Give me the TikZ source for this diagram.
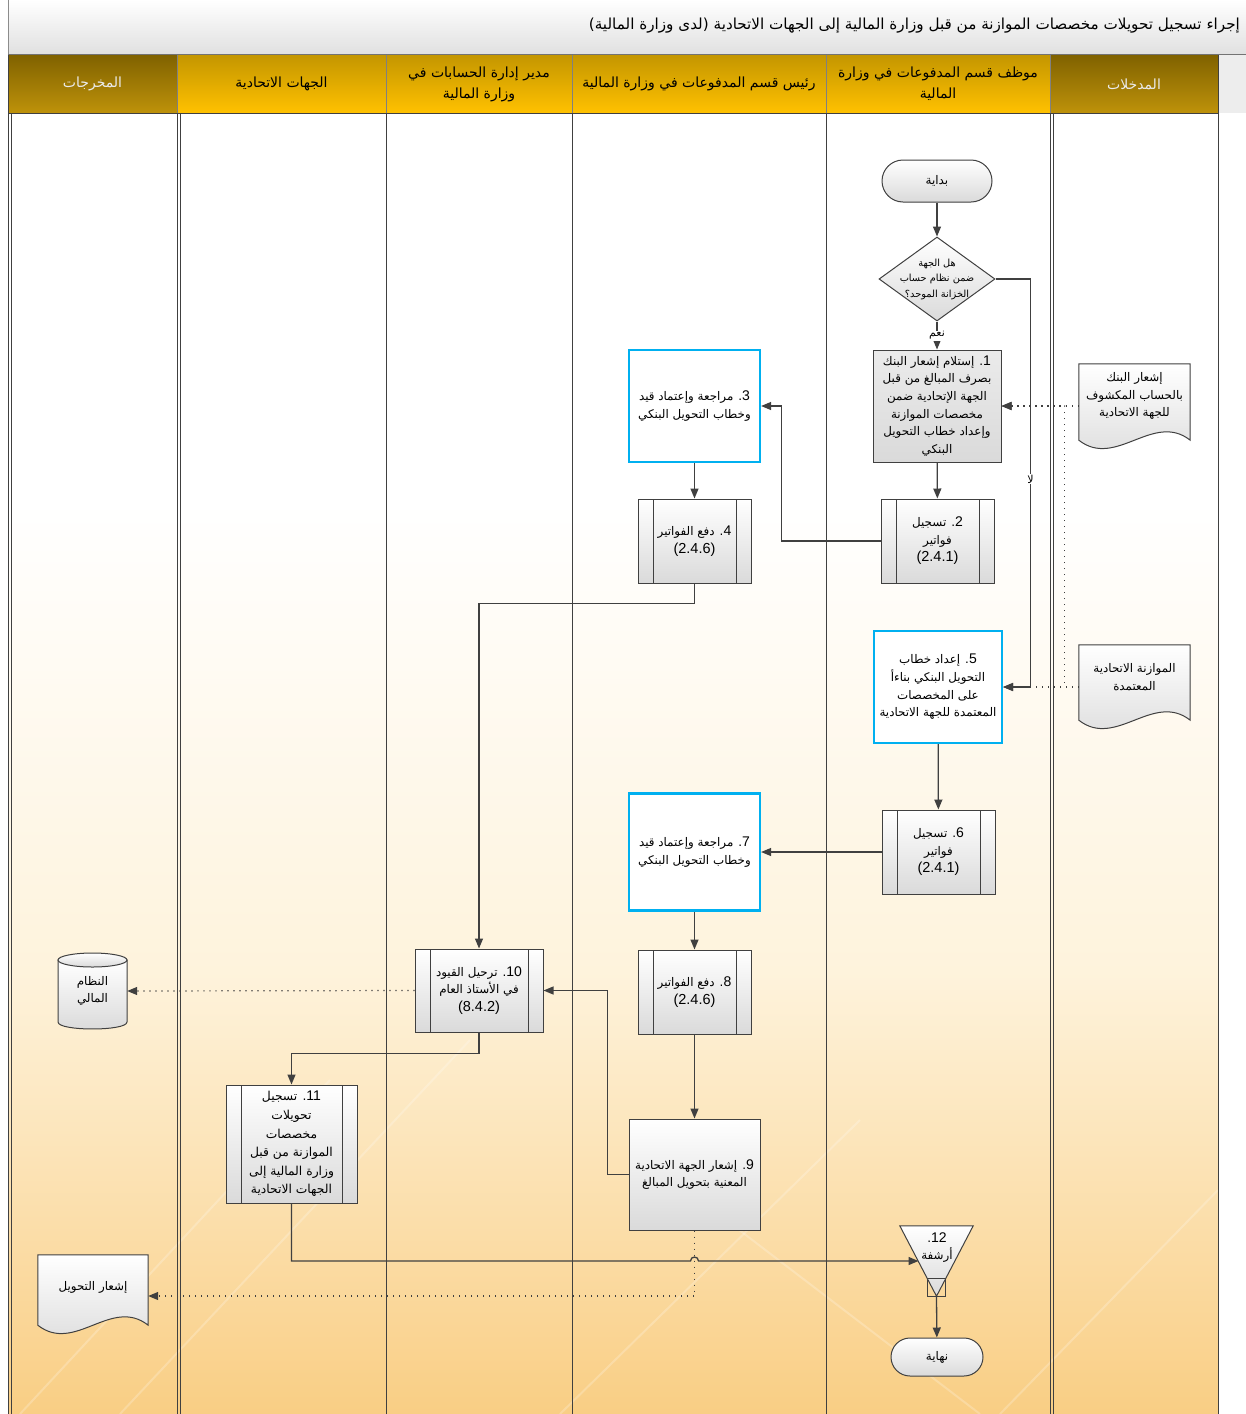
\documentclass[tikz,border=0pt]{standalone}
\usepackage{fontspec}
\setmainfont{Liberation Sans}
\newfontfamily\arabicfont[Script=Arabic]{DejaVu Sans}
\newfontfamily\latfont{Liberation Sans}
\TeXXeTstate=1
\usetikzlibrary{arrows.meta,shapes.geometric,calc}

% right-to-left line and embedded left-to-right number
\newcommand\arl[1]{\beginR #1\endR}
\newcommand\nm[1]{\beginL{\latfont\fontsize{14}{17.6}\selectfont #1}\endL}
\newcommand\code[1]{{\latfont\fontsize{14.5}{18}\selectfont #1}}

\newcommand\boxfont{\arabicfont\fontsize{11.9}{17.6}\selectfont}
\newcommand\smallfont{\arabicfont\fontsize{9.8}{15.5}\selectfont}
\newcommand\lblfont{\arabicfont\fontsize{11}{13}\selectfont}
\newcommand\hdrfont{\arabicfont\fontsize{14}{21}\selectfont}
\newcommand\titlefont{\arabicfont\fontsize{15.2}{18}\selectfont}

\definecolor{linegray}{RGB}{64,64,64}
\definecolor{boxblue}{RGB}{0,176,240}
\definecolor{hdrdarktop}{RGB}{128,98,0}
\definecolor{hdrdarkbot}{RGB}{190,146,10}
\definecolor{hdrgoldtop}{RGB}{196,150,0}
\definecolor{hdrgoldbot}{RGB}{255,193,0}
\definecolor{peach}{RGB}{249,206,132}
\definecolor{cream}{RGB}{254,243,220}
\definecolor{boxgray}{RGB}{218,218,218}

\pgfdeclarelayer{back}
\pgfdeclarelayer{shapes}
\pgfsetlayers{back,shapes,main}

\pgfdeclareverticalshading{lanebg}{100bp}{color(0bp)=(peach); color(25bp)=(peach); color(42bp)=(cream); color(60bp)=(white); color(100bp)=(white)}

\tikzset{
  conn/.style={draw=linegray, line width=1.3pt, -{Triangle[length=10pt,width=8pt]}},
  dotconn/.style={draw=linegray, line width=1.2pt, dash pattern=on 1.2pt off 4.8pt, -{Triangle[length=10pt,width=8pt]}},
  box/.style={draw=linegray, line width=1pt, top color=white, bottom color=boxgray, align=center, inner sep=2pt, font=\boxfont},
  graybox/.style={box, top color=boxgray!55, bottom color=boxgray},
  bluebox/.style={draw=boxblue, line width=2.2pt, fill=white, align=center, inner sep=2pt, font=\boxfont},
  predef/.style={box, path picture={
      \draw[linegray, line width=1pt]
        ([xshift=15pt]path picture bounding box.north west) -- ([xshift=15pt]path picture bounding box.south west)
        ([xshift=-15pt]path picture bounding box.north east) -- ([xshift=-15pt]path picture bounding box.south east);}},
  terminal/.style={box, rounded corners=#1},
  decision/.style={diamond, draw=linegray, line width=1pt, top color=white, bottom color=boxgray, inner sep=0pt},
  plain/.style={inner sep=0pt, align=center, font=\boxfont},
  lbl/.style={fill=white, inner sep=1pt, font=\lblfont},
  shapefill/.style={draw=linegray, line width=1pt, top color=white, bottom color=boxgray},
  hdrdark/.style={top color=hdrdarktop, bottom color=hdrdarkbot, minimum height=58pt, inner sep=0pt, align=center, font=\hdrfont, text=white!92!black},
  hdrgold/.style={top color=hdrgoldtop, bottom color=hdrgoldbot, minimum height=58pt, inner sep=0pt, align=center, font=\hdrfont, text=black},
  lane/.style={draw=black!75, line width=0.9pt},
  hdrsep/.style={draw=black!50, line width=0.8pt},
  streak/.style={draw=white, line width=2pt, opacity=0.22},
}

\begin{document}
\begin{tikzpicture}[x=1pt, y=-1pt]
\useasboundingbox (0,0) rectangle (1246,1414);

% ---------- background: title bar, lanes ----------
\begin{pgfonlayer}{back}
  \fill[white] (0,0) rectangle (1246,1414);
  \shade[top color=white, bottom color=black!12] (8,0) rectangle (1246,54);
  \fill[black!7] (1218,54) rectangle (1246,113);
  \shade[shading=lanebg] (8,113) rectangle (1218,1414);
  % faint light streaks over the lower background
  \begin{scope}
    \clip (8,113) rectangle (1218,1414);
    \draw[streak] (20,1414) -- (330,1080);
    \draw[streak] (120,1414) -- (470,1040);
    \draw[streak] (560,1414) -- (860,1120);
    \draw[streak] (700,1200) -- (980,1414);
    \draw[streak] (1000,1414) -- (1218,1190);
  \end{scope}
\end{pgfonlayer}

% title
\node[font=\titlefont, anchor=east, inner sep=0pt] (title) at (1240,26)
  {\arl{إجراء تسجيل تحويلات مخصصات الموازنة من قبل وزارة المالية إلى الجهات الاتحادية (لدى وزارة المالية)}};

% lane headers
\node[hdrdark, minimum width=169pt] (hout) at (92.5,84) {\arl{المخرجات}};
\node[hdrgold, minimum width=209pt] (hent) at (281.5,84) {\arl{الجهات الاتحادية}};
\node[hdrgold, minimum width=186pt] (hacc) at (479,84) {\arl{مدير إدارة الحسابات في}\\\arl{وزارة المالية}};
\node[hdrgold, minimum width=254pt] (hhead) at (699,84) {\arl{رئيس قسم المدفوعات في وزارة المالية}};
\node[hdrgold, minimum width=224pt] (hemp) at (938,84) {\arl{موظف قسم المدفوعات في وزارة}\\\arl{المالية}};
\node[hdrdark, minimum width=168pt] (hin) at (1134,84) {\arl{المدخلات}};

% frame and lane separators
\draw[black!55, line width=1pt] (8,54) -- (1246,54);
\draw[black!45, line width=0.8pt] (8,0) -- (8,54);
\foreach \xx in {177,386,572,826,1050}
  \draw[hdrsep] (\xx,55) -- (\xx,113);
\draw[lane] (8,55) -- (8,1414);
\draw[lane] (11,114) -- (11,1414);
\draw[lane] (8,113.5) -- (1218,113.5);
\draw[lane] (177,114) -- (177,1414);
\draw[lane] (180,114) -- (180,1414);
\draw[lane] (386,114) -- (386,1414);
\draw[lane] (572,114) -- (572,1414);
\draw[lane] (826,114) -- (826,1414);
\draw[lane] (1050,114) -- (1050,1414);
\draw[lane] (1053,114) -- (1053,1414);
\draw[lane] (1218,55) -- (1218,1414);

% ---------- flow nodes ----------
\node[terminal=21pt, minimum width=110pt, minimum height=42pt] (start) at (937,181) {\arl{بداية}};
\node[decision, minimum width=116pt, minimum height=84pt] (q) at (937,279) {};
\node[plain, font=\smallfont] (qtext) at (q.center)
  {\arl{هل الجهة}\\\arl{ضمن نظام حساب}\\\arl{الخزانة الموحد؟}};

\node[graybox, minimum width=128pt, minimum height=112pt] (n1) at (937,406)
  {\arl{\nm{1}. إستلام إشعار البنك}\\\arl{بصرف المبالغ من قبل}\\\arl{الجهة الإتحادية ضمن}\\\arl{مخصصات الموازنة}\\\arl{وإعداد خطاب التحويل}\\\arl{البنكي}};
\node[predef, minimum width=113pt, minimum height=84pt] (n2) at (937.5,541)
  {\arl{\nm{2}. تسجيل}\\\arl{فواتير}\\\code{(2.4.1)}};
\node[bluebox, minimum width=131pt, minimum height=112pt] (n3) at (694.5,406)
  {\arl{\nm{3}. مراجعة وإعتماد قيد}\\\arl{وخطاب التحويل البنكي}};
\node[predef, minimum width=113pt, minimum height=84pt] (n4) at (694.5,541)
  {\arl{\nm{4}. دفع الفواتير}\\\code{(2.4.6)}};
\node[bluebox, minimum width=128pt, minimum height=112pt] (n5) at (938,687)
  {\arl{\nm{5}. إعداد خطاب}\\\arl{التحويل البنكي بناءأ}\\\arl{على المخصصات}\\\arl{المعتمدة للجهة الاتحادية}};
\node[predef, minimum width=113pt, minimum height=84pt] (n6) at (938.5,852)
  {\arl{\nm{6}. تسجيل}\\\arl{فواتير}\\\code{(2.4.1)}};
\node[bluebox, minimum width=131pt, minimum height=117pt] (n7) at (694.5,852)
  {\arl{\nm{7}. مراجعة وإعتماد قيد}\\\arl{وخطاب التحويل البنكي}};
\node[predef, minimum width=113pt, minimum height=84pt] (n8) at (694.5,992)
  {\arl{\nm{8}. دفع الفواتير}\\\code{(2.4.6)}};
\node[box, minimum width=131pt, minimum height=111pt] (n9) at (694.5,1174.5)
  {\arl{\nm{9}. إشعار الجهة الاتحادية}\\\arl{المعنية بتحويل المبالغ}};
\node[predef, minimum width=128pt, minimum height=83pt] (n10) at (479,990.5)
  {\arl{\nm{10}. ترحيل القيود}\\\arl{في الأستاذ العام}\\\code{(8.4.2)}};
\node[predef, minimum width=131pt, minimum height=118pt, font=\arabicfont\fontsize{12.3}{18.6}\selectfont] (n11) at (291.5,1144)
  {\arl{\nm{11}. تسجيل}\\\arl{تحويلات}\\\arl{مخصصات}\\\arl{الموازنة من قبل}\\\arl{وزارة المالية إلى}\\\arl{الجهات الاتحادية}};

% archive (merge triangle) and end
\node[inner sep=0pt, minimum width=73pt, minimum height=70pt] (n12) at (936.5,1261) {};
\node[plain, font=\boxfont] (n12t) at (937,1247.5) {\arl{\nm{12}.}\\\arl{أرشفة}};
\coordinate (n12in) at ($(n12.center)+(-18,0)$);
\node[terminal=19pt, minimum width=92pt, minimum height=38pt] (end) at (937,1357) {\arl{نهاية}};

% inputs and outputs
\node[plain, minimum width=111pt, minimum height=64pt] (in1) at (1134.5,396)
  {\arl{إشعار البنك}\\\arl{بالحساب المكشوف}\\\arl{للجهة الاتحادية}};
\node[plain, minimum width=111pt, minimum height=64pt] (in2) at (1134.5,677)
  {\arl{الموازنة الاتحادية}\\\arl{المعتمدة}};
\node[plain, minimum width=69pt, minimum height=76pt] (cyl) at (92.5,991)
  {\arl{النظام}\\\arl{المالي}};
\node[plain, minimum width=110pt, minimum height=64pt] (out2) at (93,1287)
  {\arl{إشعار التحويل}};

\begin{pgfonlayer}{shapes}
  % document shapes with wavy bottoms
  \foreach \d/\e in {in1/12, in2/11, out2/6}{
    \shade[shapefill] (\d.north west) -- (\d.north east) -- ($(\d.south east)+(0,\e)$)
      .. controls +(-37,-29) and +(37,29) .. ($(\d.south west)+(0,\e)$) -- cycle;
  }
  % database cylinder
  \shade[shapefill] ($(cyl.center)+(-34.5,-31)$) -- ($(cyl.center)+(-34.5,31)$)
     .. controls +(0,9.3) and +(0,9.3) .. ($(cyl.center)+(34.5,31)$)
     -- ($(cyl.center)+(34.5,-31)$) -- cycle;
  \shade[shapefill] ($(cyl.center)+(0,-31)$) ellipse [x radius=34.5, y radius=7];
  % archive triangle
  \shade[shapefill] (n12.north west) -- (n12.north east) -- (n12.south) -- cycle;
  \draw[linegray, line width=1pt] ($(n12.south)+(-9,0)$) rectangle ($(n12.south)+(9,-18)$);
\end{pgfonlayer}

% ---------- connectors ----------
\draw[conn] (start) -- (q);
\draw[conn] (q) -- node[lbl]{\arl{نعم}} (n1);
\draw[conn] (q.east) -- ++(35,0) |- node[lbl, pos=0.245]{\arl{لا}} (n5.east);
\draw[conn] (n1) -- (n2);
\draw[conn] (n2.west) -- ++(-99,0) |- (n3.east);
\draw[conn] (n3) -- (n4);
\draw[conn] (n4.south) -- ++(0,20) -| (n10.north);
\draw[conn] (n5) -- (n6);
\draw[conn] (n6.west) -- (n7.east |- n6.west);
\draw[conn] (n7) -- (n8);
\draw[conn] (n8) -- (n9);
\draw[conn] (n9.west) -- ++(-21,0) |- (n10.east);
\draw[conn] (n10.south) -- ++(0,21) -| (n11.north);
\draw[conn] (n11.south) |- ($(n9.south |- n12.center)+(-4,0)$)
   .. controls +(0,-5.3) and +(0,-5.3) .. ($(n9.south |- n12.center)+(4,0)$) -- (n12in);
\draw[conn] (n12.south) -- (end);

% information flows
\draw[dotconn] (n1.east -| in1.west) -- (n1.east);
\draw[dotconn] (n5.east -| in2.west) -- (n5.east);
\draw[dotconn] (n5.east -| in2.west) -- ++(-14,0) |- (n1.east);
\draw[dotconn] (n10.west) -- (cyl.east);
\draw[dotconn] (n9.south) |- ($(out2.east)+(0,9)$);

\end{tikzpicture}
\end{document}
